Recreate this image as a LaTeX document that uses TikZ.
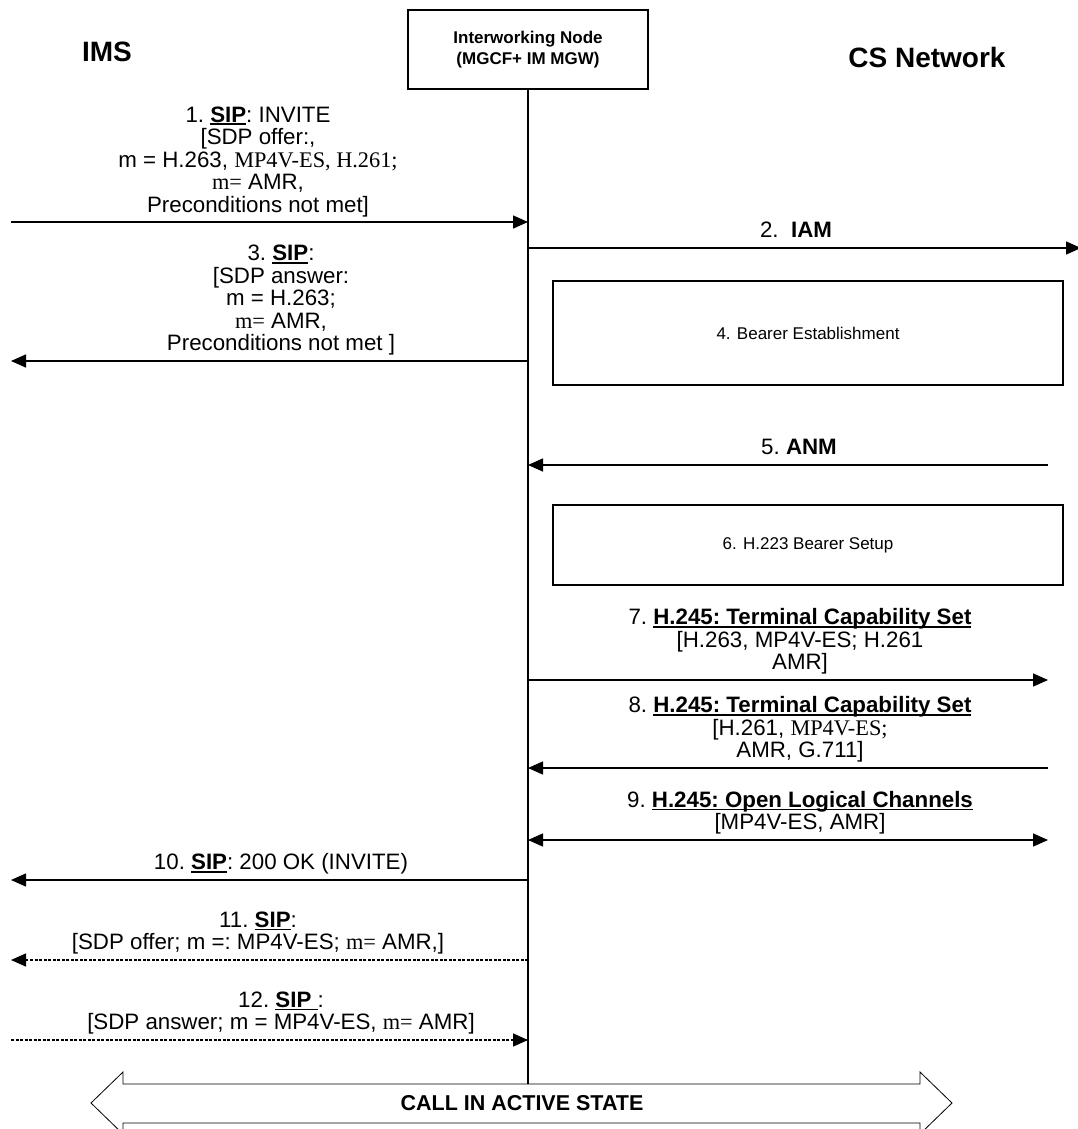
\documentclass[tikz,border=0pt]{standalone}
\usepackage{fontspec}
\setmainfont{Liberation Sans}
\newfontfamily\tnr{Liberation Serif}
\usetikzlibrary{arrows.meta,positioning}

% bold text with a heavy underline
\newsavebox\ulbox
\newcommand{\ubf}[1]{\sbox\ulbox{\bfseries #1}\rlap{\vrule height -1.3pt depth 3.1pt width \wd\ulbox}\usebox\ulbox}

\begin{document}
\begin{tikzpicture}[x=1pt, y=-1pt,
    msg/.style={-{Triangle[length=15pt,width=13pt]}, line width=1.5pt},
    bimsg/.style={{Triangle[length=15pt,width=13pt]}-{Triangle[length=15pt,width=13pt]}, line width=1.5pt},
    dotmsg/.style={msg, dash pattern=on 3pt off 1.5pt},
    lbl/.style={align=center, inner sep=0pt, anchor=south, font=\frenchspacing\fontsize{22.3}{22.5}\selectfont},
    phase/.style={draw, line width=1.3pt, inner sep=0pt, minimum width=510pt, font=\fontsize{17}{20}\selectfont},
    side/.style={inner sep=0pt, font=\bfseries\fontsize{28}{32}\selectfont}
]
\useasboundingbox (0,0) rectangle (1077,1129);

% entities
\node[side] (ims) at (107,52) {IMS};
\node[side] (cs) at (927,57) {CS Network};
\node[draw, line width=1.3pt, minimum width=240pt, minimum height=79pt, align=center,
      font=\bfseries\fontsize{17}{21}\selectfont] (iwn) at (528,49.5) {Interworking Node\\(MGCF+ IM MGW)};
\coordinate (iwnend) at (528,1084);
\draw[line width=1.2pt] (iwn.south) -- (iwnend);

% message ends
\foreach \n/\y in {1/222,2/248,3/361,5/465,7/680,8/768,9/840,10/880,11/960,12/1040}
    \coordinate (iwn\n) at (528,\y);
\foreach \n/\y in {1/222,3/361,10/880,11/960,12/1040}
    \coordinate (ims\n) at (11,\y);
\foreach \n/\y in {5/465,7/680,8/768,9/840}
    \coordinate (cs\n) at (1048,\y);
\coordinate (cs2) at (1081,248);

% messages
\draw[msg] (ims1) -- (iwn1);
\node[lbl] (l1) at (258,217) {1. \ubf{SIP}: INVITE\\{[}SDP offer:,\\m = H.263, {\tnr MP4V-ES, H.261;}\\{\tnr m=} AMR,\\Preconditions not met]};
\draw[msg] (iwn2) -- (cs2);
\node[lbl] (l2) at (796,238) {2.\ \ \textbf{IAM}};
\draw[msg] (iwn3) -- (ims3);
\node[lbl] (l3) at (281,355.6) {3. \ubf{SIP}:\\{[}SDP answer:\\m = H.263;\\{\tnr m=} AMR,\\Preconditions not met ]};
\node[phase, minimum height=104pt] (p4) at (808,333) {4. Bearer Establishment};
\draw[msg] (cs5) -- (iwn5);
\node[lbl] (l5) at (799,455) {5. \textbf{ANM}};
\node[phase, minimum height=80pt] (p6) at (808,545) {6. H.223 Bearer Setup};
\draw[msg] (iwn7) -- (cs7);
\node[lbl] (l7) at (800,674.6) {7. \ubf{H.245: Terminal Capability Set}\\{[}H.263, MP4V-ES; H.261\\AMR]};
\draw[msg] (cs8) -- (iwn8);
\node[lbl] (l8) at (800,762.6) {8. \ubf{H.245: Terminal Capability Set}\\{[}H.261, {\tnr MP4V-ES;}\\AMR, G.711]};
\draw[bimsg] (iwn9) -- (cs9);
\node[lbl] (l9) at (800,834.6) {9. \ubf{H.245: Open Logical Channels}\\{[}MP4V-ES, AMR]};
\draw[msg] (iwn10) -- (ims10);
\node[lbl] (l10) at (281,874.6) {10. \ubf{SIP}: 200 OK (INVITE)};
\draw[dotmsg] (iwn11) -- (ims11);
\node[lbl] (l11) at (258,954.6) {11. \ubf{SIP}:\\{[}SDP offer; m =: MP4V-ES; {\tnr m=} AMR,]};
\draw[dotmsg] (ims12) -- (iwn12);
\node[lbl] (l12) at (281,1034.6) {12. \ubf{SIP\ }:\\{[}SDP answer; m = MP4V-ES, {\tnr m=} AMR]};

% call state
\draw[line width=0.8pt] (91,1103) -- (123,1072) -- (123,1084) -- (920,1084) -- (920,1072)
    -- (952,1103) -- (920,1134) -- (920,1123) -- (123,1123) -- (123,1134) -- cycle;
\node[inner sep=0pt, font=\bfseries\fontsize{21.5}{24}\selectfont] (state) at (522,1103) {CALL IN ACTIVE STATE};
\end{tikzpicture}
\end{document}
